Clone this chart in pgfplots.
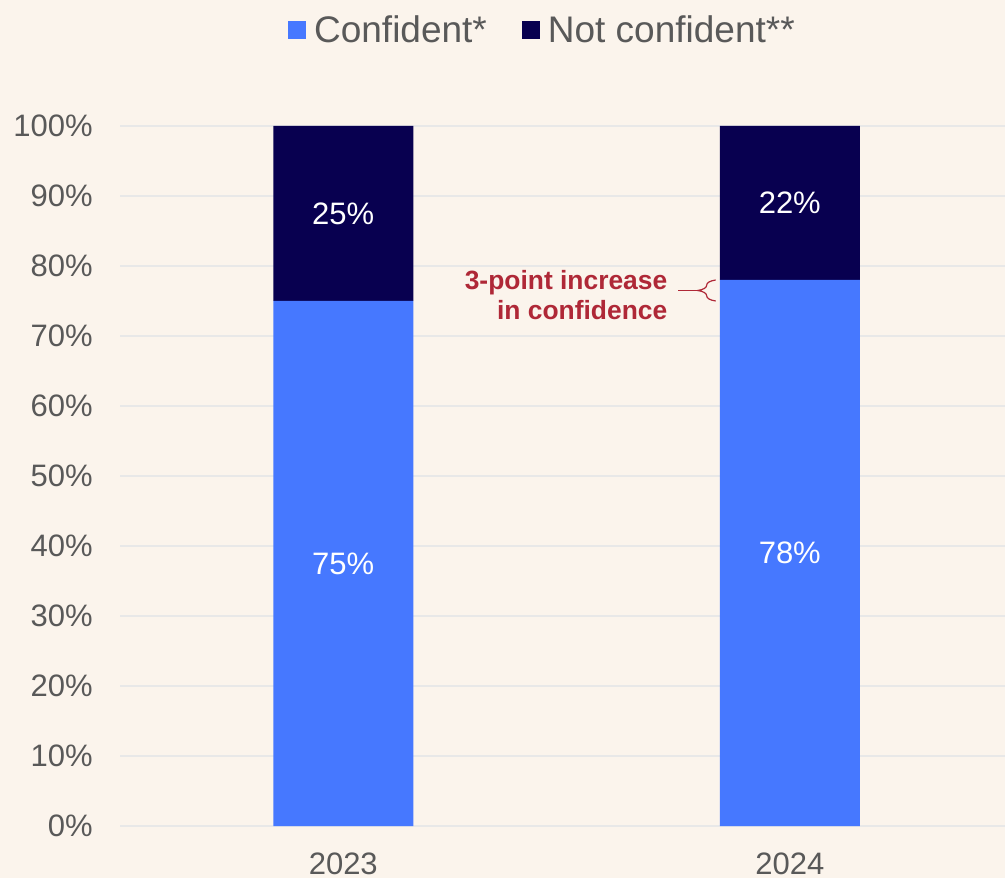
\documentclass[border=0pt]{standalone}
\usepackage{pgfplots}
\pgfplotsset{compat=1.18}
\usepackage{fontspec}
\setmainfont{Liberation Sans}
\usetikzlibrary{decorations.pathreplacing}
\definecolor{bg}{RGB}{251,244,236}
\definecolor{cblue}{RGB}{70,120,255}
\definecolor{cnavy}{RGB}{8,0,80}
\definecolor{tgray}{RGB}{89,89,89}
\definecolor{grid}{RGB}{232,232,232}
\definecolor{ared}{RGB}{175,40,55}
\begin{document}
\begin{tikzpicture}
\useasboundingbox (-60pt,-26pt) rectangle (442.5pt,413pt);
\fill[bg] (-60pt,-26pt) rectangle (442.5pt,413pt);
\begin{axis}[
  scale only axis,
  width=442.5pt, height=350pt,
  xmin=-0.5, xmax=1.482,
  ymin=0, ymax=100,
  ybar stacked,
  bar width=70pt,
  xtick={0,1},
  xticklabels={2023,2024},
  ytick={0,10,...,100},
  yticklabels={0\%,10\%,20\%,30\%,40\%,50\%,60\%,70\%,80\%,90\%,100\%},
  major tick length=0pt,
  axis line style={draw=none},
  ymajorgrids,
  grid style={draw=grid, line width=1pt},
  tick label style={font=\fontsize{15.5}{18}\selectfont, text=tgray},
  yticklabel style={inner sep=0pt, xshift=-13.5pt},
  xticklabel style={inner sep=0pt, yshift=-13pt},
  /pgf/number format/assume math mode=true,
  legend columns=2,
  legend style={
    at={(0.479,1.137)}, anchor=center,
    draw=none, fill=none,
    font=\fontsize{18.5}{21}\selectfont, text=tgray,
    /tikz/every even column/.append style={column sep=15pt},
    nodes={inner sep=2.5pt},
  },
  legend image code/.code={\fill[#1,draw=none] (0pt,-4.5pt) rectangle (9pt,4.5pt);\path (10.5pt,0pt);},
  clip=false,
]
\addplot[fill=cblue, draw=none] coordinates {(0,75) (1,78)};
\addplot[fill=cnavy, draw=none] coordinates {(0,25) (1,22)};
\legend{Confident*, Not confident**}
\coordinate (l75) at (axis cs:0,37.5);
\coordinate (l25) at (axis cs:0,87.5);
\coordinate (l78) at (axis cs:1,39);
\coordinate (l22) at (axis cs:1,89);
\coordinate (ann) at (axis cs:0.7265,75.9);
\coordinate (br1) at (axis cs:0.834,75);
\coordinate (br2) at (axis cs:0.834,78);
\coordinate (brm) at (axis cs:0.834,76.5);
\end{axis}
\node[text=white, font=\fontsize{15.5}{18}\selectfont] at (l75) {75\%};
\node[text=white, font=\fontsize{15.5}{18}\selectfont] at (l25) {25\%};
\node[text=white, font=\fontsize{15.5}{18}\selectfont] at (l78) {78\%};
\node[text=white, font=\fontsize{15.5}{18}\selectfont] at (l22) {22\%};
\node[anchor=east, align=right, text=ared, inner sep=0pt, font=\fontsize{13.2}{15}\selectfont\bfseries] at (ann) {3-point increase\\in confidence};
\draw[ared, line width=0.6pt, decorate, decoration={brace, amplitude=9pt}] (br1) -- (br2);
\draw[ared, line width=0.6pt] ([xshift=-9.5pt]brm) -- ([xshift=-19pt]brm);
\end{tikzpicture}
\end{document}
